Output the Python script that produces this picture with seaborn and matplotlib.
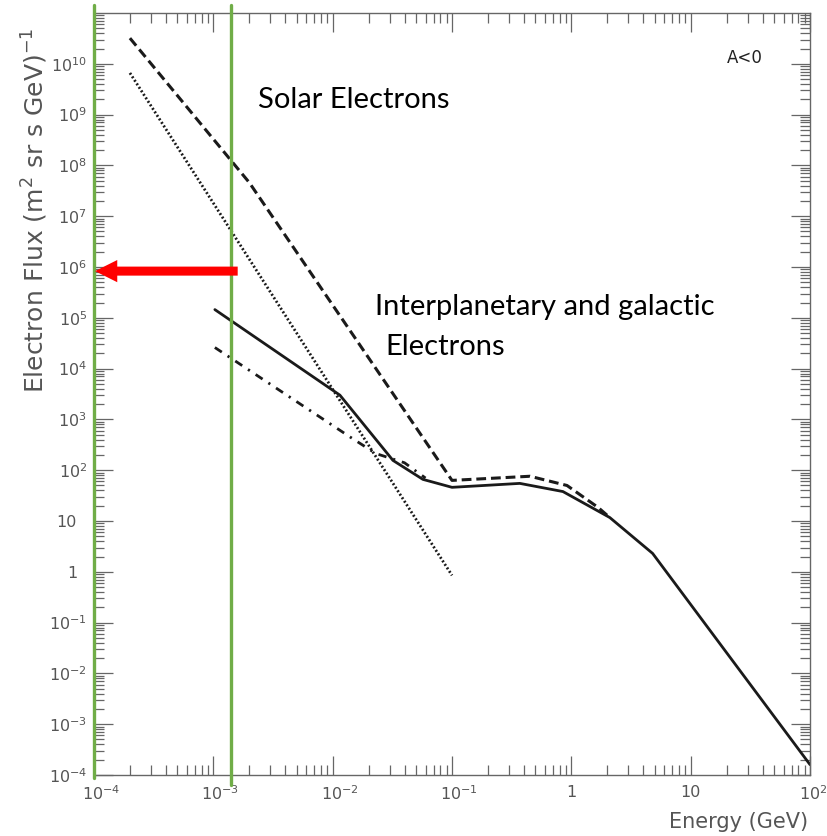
import numpy as np
import pandas as pd
import matplotlib
matplotlib.use("Agg")
import matplotlib.pyplot as plt
import matplotlib.transforms as mtransforms
import seaborn as sns
from matplotlib.ticker import LogLocator, FuncFormatter, NullFormatter

# ---------------- data ----------------
solid_x = [1.03e-3, 0.0115, 0.032, 0.057, 0.10, 0.37, 0.85, 2.1, 4.8, 100.0]
solid_y = [1.45e5, 3.0e3, 156, 66, 46, 55, 38, 11.7, 2.3, 1.6e-4]

dashed_x = [2.0e-4, 2.0e-3, 0.10, 0.45, 0.92, 1.67, 2.1]
dashed_y = [3.2e10, 4.6e7, 63, 76, 50, 18.6, 11.7]

dotted_x = [2.0e-4, 0.10]
dotted_y = [6.6e9, 0.85]

dashdot_x = [1.03e-3, 0.014, 0.023, 0.04, 0.06]
dashdot_y = [2.6e4, 450, 213, 140, 70]

green_lines_x = [1.0e-4, 1.41e-3]
arrow_from = (1.6e-3, 8.3e5)
arrow_to = (1.02e-4, 8.3e5)

x_ticks = [1e-4, 1e-3, 1e-2, 1e-1, 1, 10, 100]
y_ticks = [10.0 ** e for e in range(-4, 11)]

# ---------------- figure ----------------
sns.set_style("ticks")
plt.rcParams["font.family"] = ["DejaVu Sans"]
plt.rcParams["mathtext.fontset"] = "dejavusans"

W, H = 827, 836
fig = plt.figure(figsize=(W / 100, H / 100), dpi=100)
ax = fig.add_axes([94 / W, 1 - 775 / H, (810 - 94) / W, (775 - 13) / H])

line_col = "#1a1a1a"

def draw(xs, ys, **kw):
    df = pd.DataFrame({"x": xs, "y": ys})
    sns.lineplot(data=df, x="x", y="y", ax=ax, sort=False, estimator=None,
                 color=line_col, **kw)

draw(solid_x, solid_y, lw=2.0)
draw(dashed_x, dashed_y, lw=2.2)
ax.lines[-1].set_linestyle((0, (3.2, 1.6)))
draw(dotted_x, dotted_y, lw=2.0)
ax.lines[-1].set_linestyle((0, (0.7, 0.8)))
draw(dashdot_x, dashdot_y, lw=2.0)
ax.lines[-1].set_linestyle((0, (3.0, 2.5, 0.8, 2.5)))

ax.set_xscale("log")
ax.set_yscale("log")
ax.set_xlim(1e-4, 1e2)
ax.set_ylim(1e-4, 1e11)

def fmt(v, pos):
    e = int(round(np.log10(v)))
    if e == 0:
        return "1"
    if e == 1:
        return "10"
    return r"$10^{%d}$" % e

ax.set_xticks(x_ticks)
ax.set_yticks(y_ticks)
ax.xaxis.set_major_formatter(FuncFormatter(fmt))
ax.yaxis.set_major_formatter(FuncFormatter(fmt))
ax.xaxis.set_minor_locator(LogLocator(base=10, subs=np.arange(2, 10), numticks=50))
ax.yaxis.set_minor_locator(LogLocator(base=10, subs=np.arange(2, 10), numticks=50))
ax.xaxis.set_minor_formatter(NullFormatter())
ax.yaxis.set_minor_formatter(NullFormatter())

tick_col = "#666666"
ax.tick_params(which="both", direction="in", top=True, right=True,
               color=tick_col, labelcolor="#555555", labelsize=11.5, width=0.9)
ax.tick_params(which="major", length=14)
ax.tick_params(which="minor", length=7)
ax.tick_params(axis="x", which="major", pad=7)
ax.tick_params(axis="y", which="major", pad=5)
for s in ax.spines.values():
    s.set_color(tick_col)
    s.set_linewidth(1.0)
ax.set_xlabel("")
ax.set_ylabel("")

# IDL-like label placement: base "10" centred on x ticks, exponents hang right
fig.canvas.draw()
for tick, v in zip(ax.xaxis.get_major_ticks(), x_ticks):
    e = int(round(np.log10(v)))
    if e not in (0, 1):
        dx = 7 if v < x_ticks[-1] else 3
        off = mtransforms.ScaledTranslation(dx / 100, 0, fig.dpi_scale_trans)
        tick.label1.set_transform(tick.label1.get_transform() + off)
for tick, v in zip(ax.yaxis.get_major_ticks(), y_ticks):
    e = int(round(np.log10(v)))
    if e in (0, 1):
        off = mtransforms.ScaledTranslation(-10 / 100, 0, fig.dpi_scale_trans)
        tick.label1.set_transform(tick.label1.get_transform() + off)

# green vertical lines (extend beyond the axes box)
ax.axvline(green_lines_x[0], ymin=-0.004, ymax=1.0105, color="#70AD47", lw=2.4,
           clip_on=False, zorder=5)
ax.axvline(green_lines_x[1], ymin=-0.013, ymax=1.0105, color="#70AD47", lw=2.4,
           clip_on=False, zorder=5)

# red arrow
ax.annotate("", xy=arrow_to, xytext=arrow_from,
            arrowprops=dict(arrowstyle="simple,head_length=16,head_width=16,tail_width=6.5",
                            mutation_scale=1, color="#FF0000", shrinkA=0, shrinkB=0,
                            lw=0),
            zorder=6, annotation_clip=False)

# axis labels
fig.text(808 / W, 1 - 822 / H, "Energy (GeV)", ha="right", va="center",
         fontsize=15, color="#555555")
fig.text(35 / W, 1 - 210 / H, r"Electron Flux (m$^2$ sr s GeV)$^{-1}$",
         rotation=90, ha="center", va="center", fontsize=18, color="#555555")

# annotations
ann_font = ["Lato", "DejaVu Sans"]
fig.text(258 / W, 1 - 100 / H, "Solar Electrons", ha="left", va="center",
         fontsize=21, family=ann_font, color="black")
fig.text(375 / W, 1 - 307 / H, "Interplanetary and galactic", ha="left", va="center",
         fontsize=21, family=ann_font, color="black")
fig.text(385 / W, 1 - 347 / H, "Electrons", ha="left", va="center",
         fontsize=21, family=ann_font, color="black")
fig.text(745 / W, 1 - 58 / H, "A<0", ha="center", va="center",
         fontsize=12, color="#222222")

fig.savefig("out.png", dpi=100)
